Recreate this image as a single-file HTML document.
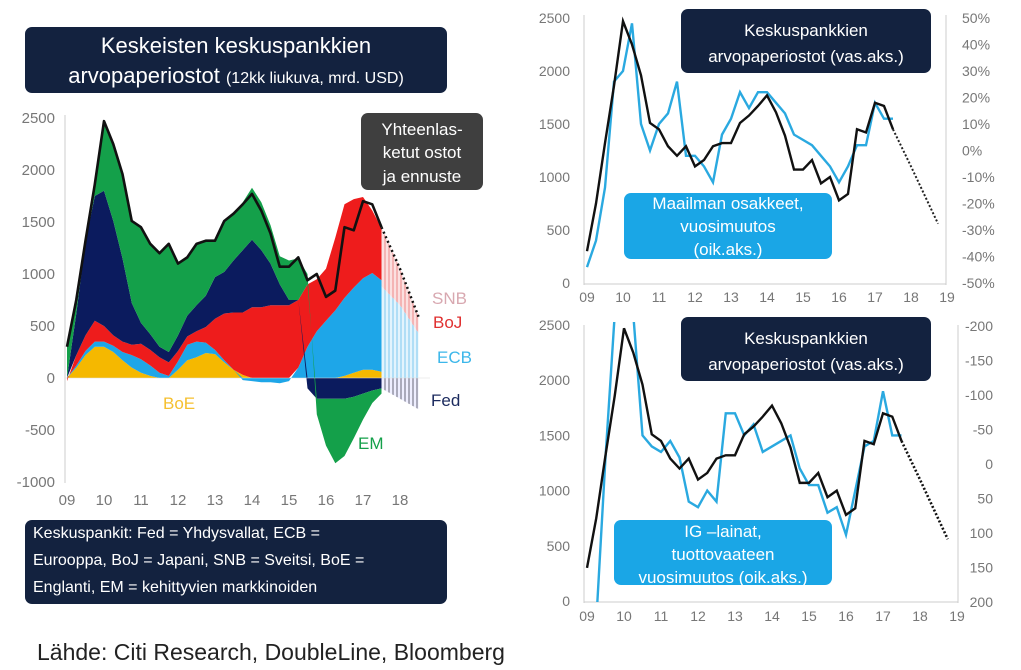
<!DOCTYPE html>
<html><head><meta charset="utf-8">
<style>
html,body{margin:0;padding:0;background:#fff;}
svg{display:block;font-family:"Liberation Sans",sans-serif;}
.tk{fill:#777;font-size:14px;}
</style></head>
<body>
<svg id="s" width="1021" height="670" viewBox="0 0 1021 670">
<defs>
<pattern id="hp" width="4" height="4" patternUnits="userSpaceOnUse"><rect width="4" height="4" fill="#fbe0e0"/><line x1="1" y1="0" x2="1" y2="4" stroke="#e88" stroke-width="1"/></pattern>
<pattern id="hb" width="4" height="4" patternUnits="userSpaceOnUse"><rect width="4" height="4" fill="#e3f4fd"/><line x1="1" y1="0" x2="1" y2="4" stroke="#7cc8ef" stroke-width="1"/></pattern>
<pattern id="hn" width="4" height="4" patternUnits="userSpaceOnUse"><rect width="4" height="4" fill="#eef"/><line x1="1" y1="0" x2="1" y2="4" stroke="#667" stroke-width="1"/></pattern>
<clipPath id="c1"><rect x="584" y="12" width="362" height="272"/></clipPath>
<clipPath id="c2"><rect x="584" y="322" width="374" height="280"/></clipPath>
</defs>
<g id="g"></g>
</svg>
<script>
// quarterly data 2009.0 .. 2017.5 (USD bn)
const startYear = 2009, step = 0.25;
const boe = [0,100,220,300,300,250,170,100,50,20,0,0,80,170,200,240,230,150,80,30,0,0,0,0,0,0,0,0,0,0,20,50,80,80,60];
const ecb = [0,20,40,50,50,60,80,120,130,100,50,20,80,150,150,100,40,20,0,-20,-30,-40,-40,-50,-30,100,300,450,550,650,750,820,880,930,880];
const boj = [-30,100,150,200,150,100,100,100,150,150,150,130,100,80,100,150,300,450,550,600,680,680,700,700,700,650,600,500,500,700,900,850,780,600,500];
const fed = [0,400,900,1200,1300,1100,800,400,200,150,100,100,150,200,250,300,400,400,500,600,650,550,400,200,50,0,-100,-200,-200,-200,-200,-180,-150,-120,-100];
const em  = [300,130,50,110,670,740,810,790,920,870,900,1040,690,560,590,530,350,490,450,460,500,460,370,270,380,400,100,-150,-450,-620,-550,-400,-250,-120,-50];
const total = [300,750,1320,1860,2470,2250,1960,1510,1450,1290,1200,1290,1100,1160,1290,1320,1320,1510,1580,1670,1770,1610,1390,1070,1070,1160,940,1000,780,840,1450,1420,1700,1670,1450];
// forecast
const fcYears = [2017.5,2018.0,2018.5];
const fcTotal = [1450,1050,590];
const fcEcb = [880,700,430];
const fcFed = [-100,-200,-300];
const fcYearsR = [2017.5,2018.0,2018.75];
const fcTotalR = [1450,1100,560];
// world equities y/y % (right axis top)
const equities = [-44,-34,-14,26,30,48,10,0,10,14,26,-2,-2,-6,-12,6,12,22,16,22,22,18,14,6,4,2,-2,-6,-12,-6,2,2,18,12,12];
// IG spread y/y change bp (inverted right axis bottom)
const igSpread = [250,230,-8,-216,-280,-216,-40,-24,-16,-32,-8,56,64,40,56,-72,-72,-40,-56,-16,-24,-32,-40,8,32,32,72,64,104,40,-24,-32,-104,-40,-40];
const yTicksL = [2500,2000,1500,1000,500,0,-500,-1000];
const yTicksR = [2500,2000,1500,1000,500,0];
const xLabelsL = ['09','10','11','12','13','14','15','16','17','18'];
const xLabelsR = ['09','10','11','12','13','14','15','16','17','18','19'];
const pctTicks = ['50%','40%','30%','20%','10%','0%','-10%','-20%','-30%','-40%','-50%'];
const bpTicks = ['-200','-150','-100','-50','0','50','100','150','200'];

const NS='http://www.w3.org/2000/svg', G=document.getElementById('g');
function mk(tag,attrs,name,parent){const e=document.createElementNS(NS,tag);for(const k in attrs)e.setAttribute(k,attrs[k]);


(parent||G).appendChild(e);return e;}
function txt(x,y,s,cls,name,extra){const e=mk('text',Object.assign({x:x,y:y,class:cls||''},extra||{}),name);e.textContent=s;return e;}
const T=i=>startYear+i*step;

// ---- left chart ----
const xL=t=>67+(t-2009)*37, yL=v=>378-v*0.104;
mk('line',{x1:65,y1:115,x2:65,y2:483,stroke:'#ccc'},'left-y-axis');
yTicksL.forEach(v=>txt(55,yL(v)+5,String(v),'tk','left-y-tick-label',{'text-anchor':'end',style:'font-size:15px'}));
xLabelsL.forEach((l,i)=>txt(xL(2009+i),505,l,'tk','left-x-tick-label',{'text-anchor':'middle',style:'font-size:15px'}));
const series=[[boe,'#f5b800','boe-area'],[ecb,'#1ea6e8','ecb-area'],[boj,'#ee1c1c','boj-area'],[fed,'#0b1b5e','fed-area'],[em,'#14a04a','em-area']];
const pos=total.map(()=>0), neg=total.map(()=>0);
series.forEach(([arr,col,name])=>{
  const top=[],bot=[];
  arr.forEach((v,i)=>{ if(v>=0){bot.push(pos[i]);pos[i]+=v;top.push(pos[i]);} else {bot.push(neg[i]);neg[i]+=v;top.push(neg[i]);} });
  let d='';
  top.forEach((v,i)=>{d+=(i?'L':'M')+xL(T(i)).toFixed(1)+','+yL(v).toFixed(1);});
  for(let i=bot.length-1;i>=0;i--) d+='L'+xL(T(i)).toFixed(1)+','+yL(bot[i]).toFixed(1);
  mk('path',{d:d+'Z',fill:col},name);
});
// forecast hatched
function band(a,b,fill,name){let d='';a.forEach((v,i)=>{d+=(i?'L':'M')+xL(fcYears[i])+','+yL(v);});for(let i=b.length-1;i>=0;i--)d+='L'+xL(fcYears[i])+','+yL(b[i]);mk('path',{d:d+'Z',fill:fill},name);}
band(fcTotal,fcEcb,'url(#hp)','snb-boj-forecast-area');
band(fcEcb,fcYears.map(()=>0),'url(#hb)','ecb-forecast-area');
band(fcYears.map(()=>0),fcFed,'url(#hn)','fed-forecast-area');
mk('line',{x1:65,y1:yL(0),x2:430,y2:yL(0),stroke:'#ddd','stroke-width':0.6},'left-zero-line');
mk('polyline',{points:total.map((v,i)=>xL(T(i))+','+yL(v)).join(' '),fill:'none',stroke:'#111','stroke-width':2.6,'stroke-linejoin':'round'},'total-line');
mk('polyline',{points:fcTotal.map((v,i)=>xL(fcYears[i])+','+yL(v)).join(' '),fill:'none',stroke:'#111','stroke-width':2.5,'stroke-dasharray':'2,3'},'total-forecast-line');
[['SNB',432,304,'#d8a8b0'],['BoJ',433,328,'#e03030'],['ECB',437,363,'#3cb7ea'],['Fed',431,406,'#1b2a5e'],['BoE',163,409,'#f5c030'],['EM',358,449,'#14a04a']]
.forEach(([s,x,y,c])=>txt(x,y,s,'',s.toLowerCase()+'-label',{fill:c,style:'font-size:17px'}));

// ---- right top ----
const xR1=t=>587+(t-2009)*36, yR1=v=>283-v*0.106, yP=p=>yR1((p+50)*25);
mk('line',{x1:584,y1:15,x2:584,y2:285,stroke:'#ccc'},'top-right-left-axis');
mk('line',{x1:946,y1:15,x2:946,y2:285,stroke:'#ccc'},'top-right-right-axis');
mk('line',{x1:584,y1:284,x2:946,y2:284,stroke:'#ccc'},'top-right-x-axis');
yTicksR.forEach(v=>txt(570,yR1(v)+5,String(v),'tk','top-right-y-tick',{'text-anchor':'end'}));
pctTicks.forEach((l,i)=>txt(962,18+i*26.5+5,l,'tk','top-right-pct-tick'));
xLabelsR.forEach((l,i)=>txt(xR1(2009+i),302,l,'tk','top-right-x-tick',{'text-anchor':'middle'}));
const g1=mk('g',{'clip-path':'url(#c1)'},'top-right-plot');
mk('polyline',{points:equities.map((v,i)=>xR1(T(i))+','+yP(v)).join(' '),fill:'none',stroke:'#2aa9e0','stroke-width':2.4},'equities-line',g1);
mk('polyline',{points:total.map((v,i)=>xR1(T(i))+','+yR1(v)).join(' '),fill:'none',stroke:'#111','stroke-width':2.4},'purchases-line-top',g1);
mk('polyline',{points:fcTotalR.map((v,i)=>xR1(fcYearsR[i])+','+yR1(v)).join(' '),fill:'none',stroke:'#222','stroke-width':2,'stroke-dasharray':'2,2'},'purchases-forecast-top',g1);

// ---- right bottom ----
const xR2=t=>587+(t-2009)*37, yR2=v=>601-v*0.1104, yS=s=>yR2(1250-s*6.25);
mk('line',{x1:584,y1:325,x2:584,y2:603,stroke:'#ccc'},'bottom-right-left-axis');
mk('line',{x1:958,y1:325,x2:958,y2:603,stroke:'#ccc'},'bottom-right-right-axis');
mk('line',{x1:584,y1:602,x2:958,y2:602,stroke:'#ccc'},'bottom-right-x-axis');
yTicksR.forEach(v=>txt(570,yR2(v)+5,String(v),'tk','bottom-right-y-tick',{'text-anchor':'end'}));
bpTicks.forEach((l,i)=>txt(993,326+i*34.5+5,l,'tk','bottom-right-bp-tick',{'text-anchor':'end'}));
xLabelsR.forEach((l,i)=>txt(xR2(2009+i),621,l,'tk','bottom-right-x-tick',{'text-anchor':'middle'}));
const g2=mk('g',{'clip-path':'url(#c2)'},'bottom-right-plot');
mk('polyline',{points:igSpread.map((v,i)=>xR2(T(i))+','+yS(v)).join(' '),fill:'none',stroke:'#2aa9e0','stroke-width':2.4},'ig-spread-line',g2);
mk('polyline',{points:total.map((v,i)=>xR2(T(i))+','+yR2(v)).join(' '),fill:'none',stroke:'#111','stroke-width':2.4},'purchases-line-bottom',g2);
mk('polyline',{points:fcTotalR.map((v,i)=>xR2(fcYearsR[i])+','+yR2(v)).join(' '),fill:'none',stroke:'#111','stroke-width':2.6,'stroke-dasharray':'2,2'},'purchases-forecast-bottom',g2);

// ---- boxes ----
function box(x,y,w,h,fill,lines,name,fs){mk('rect',{x:x,y:y,width:w,height:h,rx:7,fill:fill},name);
 lines.forEach((l,i)=>{const t=txt(x+w/2,y+l[1],l[0],'',name+'-text',{fill:'#fff','text-anchor':'middle',style:'font-size:'+(l[2]||fs)+'px'});});}
mk('rect',{x:25,y:27,width:422,height:66,rx:7,fill:'#13223f'},'title-box');
txt(236,53,'Keskeisten keskuspankkien','',"title-line1",{fill:'#fff','text-anchor':'middle',style:'font-size:22px'});
const t2=txt(236,83,'arvopaperiostot ','',"title-line2",{fill:'#fff','text-anchor':'middle',style:'font-size:22px'});
const sp=document.createElementNS(NS,'tspan');sp.setAttribute('style','font-size:16px');sp.textContent='(12kk liukuva, mrd. USD)';t2.appendChild(sp);
box(361,113,122,77,'#3f3f3f',[['Yhteenlas-',22],['ketut ostot',45],['ja ennuste',69]],'total-forecast-note',17);
mk('rect',{x:25,y:520,width:422,height:84,rx:7,fill:'#13223f'},'central-bank-legend-box');
[['Keskuspankit: Fed = Yhdysvallat, ECB =',538],['Eurooppa, BoJ = Japani, SNB = Sveitsi, BoE =',565],['Englanti, EM = kehittyvien markkinoiden',592]]
.forEach(([s,y])=>txt(33,y,s,'','legend-text',{fill:'#fff',style:'font-size:16px'}));
box(681,9,250,64,'#13223f',[['Keskuspankkien',27],['arvopaperiostot (vas.aks.)',53]],'purchases-label-top',17);
box(624,193,208,66,'#1aa6e6',[['Maailman osakkeet,',16],['vuosimuutos',39],['(oik.aks.)',62]],'equities-label',17);
box(681,317,250,64,'#13223f',[['Keskuspankkien',27],['arvopaperiostot (vas.aks.)',53]],'purchases-label-bottom',17);
box(614,520,218,65,'#1aa6e6',[['IG –lainat,',17],['tuottovaateen',40],['vuosimuutos (oik.aks.)',63]],'ig-label',17);
txt(37,660,'Lähde: Citi Research, DoubleLine, Bloomberg','','source-note',{fill:'#222',style:'font-size:23px'});
</script>
</body></html>
